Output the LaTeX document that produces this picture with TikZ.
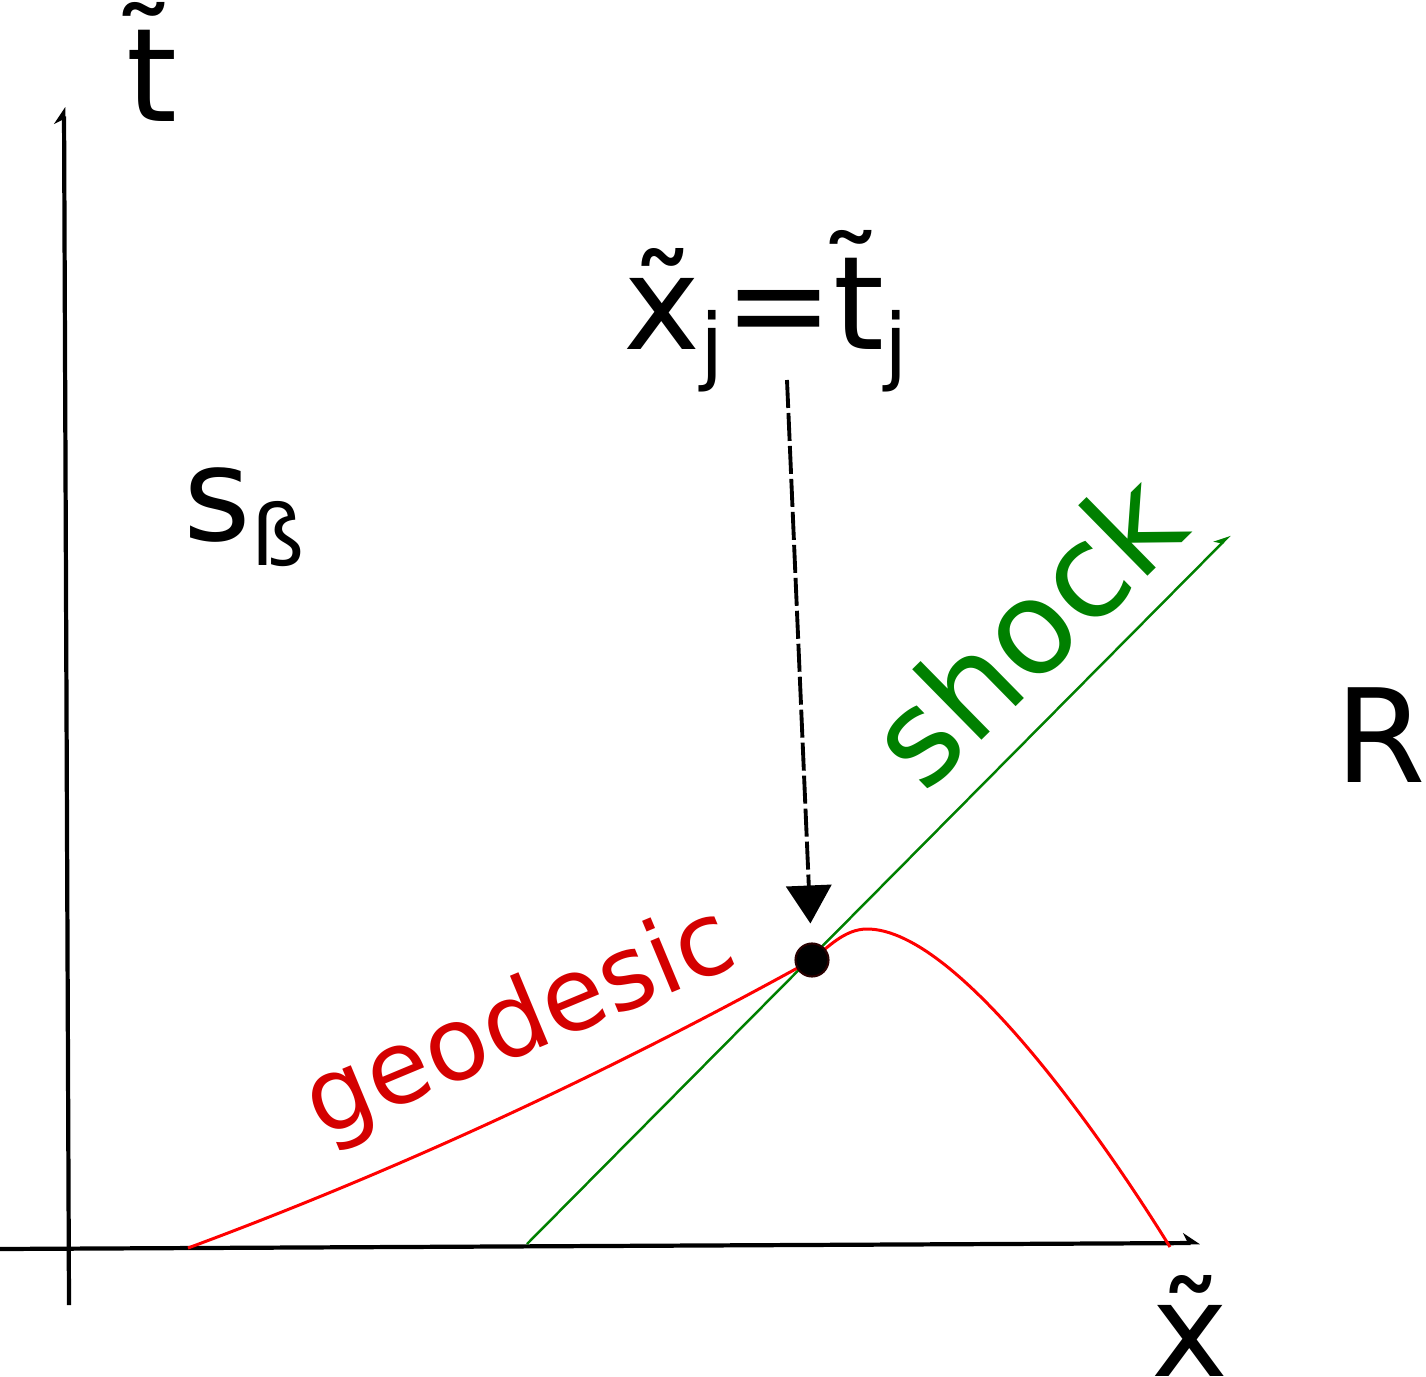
\documentclass[tikz,border=0pt]{standalone}
\usepackage{fontspec}
\setmainfont{DejaVu Sans}
\usetikzlibrary{arrows.meta}
\definecolor{shockgreen}{RGB}{0,128,0}
\definecolor{geored}{RGB}{212,0,0}
\definecolor{dotrim}{RGB}{40,0,0}
\newcommand{\lowsub}[1]{\raisebox{-0.25cm}{\fontsize{24}{24}\selectfont #1}}

\begin{document}
\begin{tikzpicture}[
    big/.style={inner sep=0pt,font=\fontsize{37}{44}\selectfont},
    axis/.style={line width=1.2pt,-{Stealth[harpoon,length=0.15cm,width=0.2cm]}},
  ]
  \useasboundingbox (0,0) rectangle (14.26,13.76);
  % axes
  \coordinate (xstart) at (0,1.27);
  \coordinate (xend) at (12.00,1.33);
  \coordinate (tstart) at (0.69,0.71);
  \coordinate (tend) at (0.64,12.69);
  \draw[axis] (xstart) -- (xend);
  \draw[axis] (tstart) -- (tend);
  \node[big,anchor=base] (tlab) at (1.52,12.54) {\~t};
  \node[big,anchor=base west] (xlab) at (11.51,0) {\~x};
  % regions
  \node[big,anchor=base west] (sbeta) at (1.83,8.36) {s\lowsub{ß}};
  \node[big,anchor=base west] (rlab) at (13.35,5.94) {R};
  % shock and geodesic
  \coordinate (meet) at (8.12,4.16);
  \coordinate (shockfoot) at (5.27,1.32);
  \coordinate (shockend) at (12.30,8.41);
  \coordinate (geostart) at (1.88,1.28);
  \coordinate (geoend) at (11.70,1.29);
  \draw[shockgreen,line width=0.7pt,-{Stealth[harpoon,length=0.14cm,width=0.14cm]}] (shockfoot) -- (shockend);
  \draw[red,line width=0.85pt] (geostart) .. controls (3.96,2.05) and (6.04,3.01) .. (meet)
    .. controls (8.28,4.29) and (8.45,4.47) .. (8.67,4.47)
    .. controls (9.60,4.47) and (11.10,2.26) .. (geoend);
  \node[big,text=shockgreen,rotate=44.5] (shocklab) at (10.25,7.47) {shock};
  \node[inner sep=0pt,font=\fontsize{29}{34}\selectfont,text=geored,rotate=22.6] (geolab) at (5.21,3.51) {geodesic};
  \node[circle,fill=black,draw=dotrim,line width=0.6pt,minimum size=0.33cm,inner sep=0pt] (dot) at (meet) {};
  % point x_j = t_j
  \node[big,anchor=base west] (xjtj) at (6.23,10.26) {\~x\lowsub{j}=\~t\lowsub{j}};
  \coordinate (arrtop) at (7.87,9.96);
  \draw[line width=1.1pt,dash pattern=on 0.28cm off 0.05cm,-{Triangle[length=0.38cm,width=0.45cm]},shorten >=0.19cm] (arrtop) -- (dot);
\end{tikzpicture}
\end{document}
